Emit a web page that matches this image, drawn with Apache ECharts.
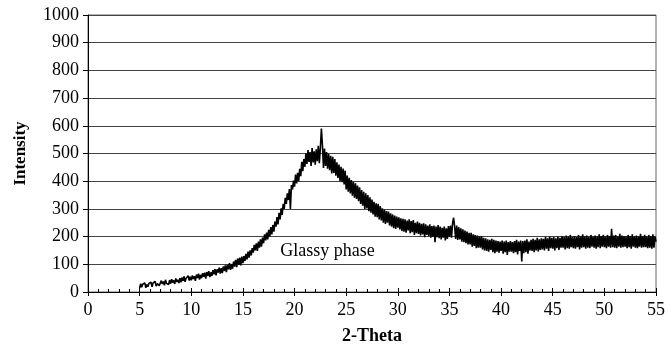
<!DOCTYPE html>
<html>
<head>
<meta charset="utf-8">
<script src="https://cdn.jsdelivr.net/npm/echarts@6/dist/echarts.min.js"></script>
<style>html,body{margin:0;padding:0;background:#fff}#c{width:668px;height:350px}</style>
</head>
<body>
<div id="c"></div>
<script>
// 2-Theta start, step and intensity readings (one row = one degree, step 0.1)
var thetaStart = 5.0;
var thetaStep = 0.1;
var intensity = [
14, 30, 17, 28, 21, 33, 15, 27, 19, 31,
24, 35, 19, 33, 26, 38, 21, 30, 36, 23,
26, 41, 29, 38, 24, 44, 31, 37, 27, 43,
30, 46, 34, 42, 29, 49, 36, 44, 32, 50,
35, 52, 40, 56, 37, 50, 43, 59, 41, 55,
42, 60, 47, 57, 40, 63, 50, 66, 45, 62,
50, 68, 55, 70, 48, 72, 58, 75, 54, 71,
58, 79, 64, 83, 60, 82, 70, 88, 66, 86,
68, 92, 76, 96, 72, 98, 82, 104, 80, 101,
84, 110, 92, 116, 90, 121, 98, 124, 96, 128,
104, 130, 112, 138, 118, 146, 124, 150, 132, 158,
142, 170, 150, 176, 148, 182, 160, 190, 164, 196,
176, 208, 186, 214, 190, 224, 200, 234, 208, 242,
218, 254, 236, 270, 244, 286, 262, 302, 278, 318,
300, 340, 318, 356, 332, 372, 300, 386, 370, 402,
380, 424, 392, 430, 400, 445, 418, 470, 436, 480,
452, 500, 462, 512, 470, 505, 455, 520, 468, 508,
460, 515, 472, 528, 465, 520, 590, 530, 448, 518,
455, 505, 445, 498, 440, 492, 428, 488, 430, 480,
420, 468, 412, 460, 400, 452, 396, 446, 388, 438,
370, 420, 362, 412, 356, 404, 348, 398, 340, 392,
336, 384, 328, 378, 318, 368, 312, 362, 300, 356,
302, 350, 292, 342, 286, 334, 280, 326, 272, 320,
270, 318, 262, 310, 258, 302, 250, 298, 246, 292,
250, 290, 240, 284, 236, 280, 230, 276, 228, 272,
232, 270, 226, 266, 220, 264, 218, 262, 214, 258,
222, 262, 212, 256, 216, 260, 206, 250, 212, 254,
210, 250, 204, 246, 208, 248, 198, 244, 206, 240,
202, 244, 196, 238, 200, 240, 180, 236, 198, 242,
194, 236, 190, 232, 196, 236, 186, 230, 192, 238,
200, 240, 196, 248, 268, 236, 192, 240, 188, 234,
190, 230, 182, 226, 180, 222, 176, 218, 172, 214,
172, 214, 164, 208, 166, 206, 158, 204, 160, 200,
160, 202, 154, 196, 150, 194, 148, 190, 146, 188,
152, 192, 144, 188, 140, 186, 146, 184, 142, 182,
148, 186, 138, 182, 144, 186, 134, 180, 146, 184,
146, 180, 140, 184, 144, 188, 136, 182, 148, 186,
110, 184, 140, 186, 144, 190, 138, 182, 150, 188,
148, 192, 144, 188, 150, 196, 146, 190, 152, 194,
154, 192, 150, 198, 156, 194, 148, 200, 158, 196,
156, 198, 150, 194, 158, 200, 152, 196, 160, 202,
160, 198, 154, 204, 158, 200, 156, 206, 162, 198,
158, 202, 156, 198, 162, 206, 154, 200, 160, 208,
162, 200, 156, 204, 160, 198, 158, 206, 164, 200,
160, 204, 156, 200, 162, 208, 158, 202, 164, 206,
162, 200, 158, 206, 164, 202, 160, 228, 162, 204,
160, 206, 158, 200, 164, 210, 160, 204, 162, 202,
164, 200, 158, 206, 162, 202, 156, 208, 164, 200,
160, 204, 158, 200, 164, 210, 160, 202, 162, 206,
162, 200, 158, 206, 160, 202, 156, 208, 160, 200,
182
];
var annotationText = 'Glassy phase';
var annotationAt = [23.2, 147];
var xName = '2-Theta';
var yName = 'Intensity';

var points = intensity.map(function (v, i) {
  return [+(thetaStart + i * thetaStep).toFixed(2), v];
});

var serif = '"Liberation Serif", "Times New Roman", serif';
var chart = echarts.init(document.getElementById('c'), null, {renderer: 'canvas'});
chart.setOption({
  animation: false,
  backgroundColor: '#fff',
  grid: {left: 88, right: 9, top: 15, bottom: 56, show: true, borderColor: '#666', borderWidth: 1, containLabel: false},
  xAxis: [{
    type: 'value', min: 0, max: 55, interval: 5,
    name: xName, nameLocation: 'middle', nameGap: 35,
    nameTextStyle: {fontFamily: serif, fontWeight: 'bold', fontSize: 18, color: '#000'},
    axisLine: {show: true, lineStyle: {color: '#000', width: 1}},
    axisTick: {show: true, inside: true, length: 4, lineStyle: {color: '#000'}},
    minorTick: {show: true, splitNumber: 5, length: 3, lineStyle: {color: '#000'}},
    axisLabel: {fontFamily: serif, fontSize: 18, color: '#000', margin: 9},
    splitLine: {show: false}
  }, {
    type: 'value', min: 0, max: 55, interval: 5, position: 'bottom', gridIndex: 0,
    axisLine: {show: false},
    axisTick: {show: true, inside: false, length: 4, lineStyle: {color: '#000'}},
    axisLabel: {show: false},
    splitLine: {show: false}
  }],
  yAxis: {
    type: 'value', min: 0, max: 1000, interval: 100,
    name: yName, nameLocation: 'middle', nameGap: 59,
    nameTextStyle: {fontFamily: serif, fontWeight: 'bold', fontSize: 17, color: '#000'},
    axisLine: {show: true, lineStyle: {color: '#000', width: 1}},
    axisTick: {show: true, inside: false, length: 5, lineStyle: {color: '#000'}},
    axisLabel: {fontFamily: serif, fontSize: 18, color: '#000', margin: 9, formatter: function (v) { return String(v); }},
    splitLine: {show: true, lineStyle: {color: '#444', width: 1}}
  },
  series: [{
    type: 'line',
    data: points,
    showSymbol: false,
    symbol: 'none',
    lineStyle: {color: '#000', width: 1.6},
    markPoint: {
      symbol: 'rect', symbolSize: 0,
      label: {show: true, position: 'inside', formatter: annotationText, fontFamily: serif, fontSize: 18, color: '#000'},
      data: [{coord: annotationAt, value: annotationText}]
    }
  }]
});
</script>
</body>
</html>
